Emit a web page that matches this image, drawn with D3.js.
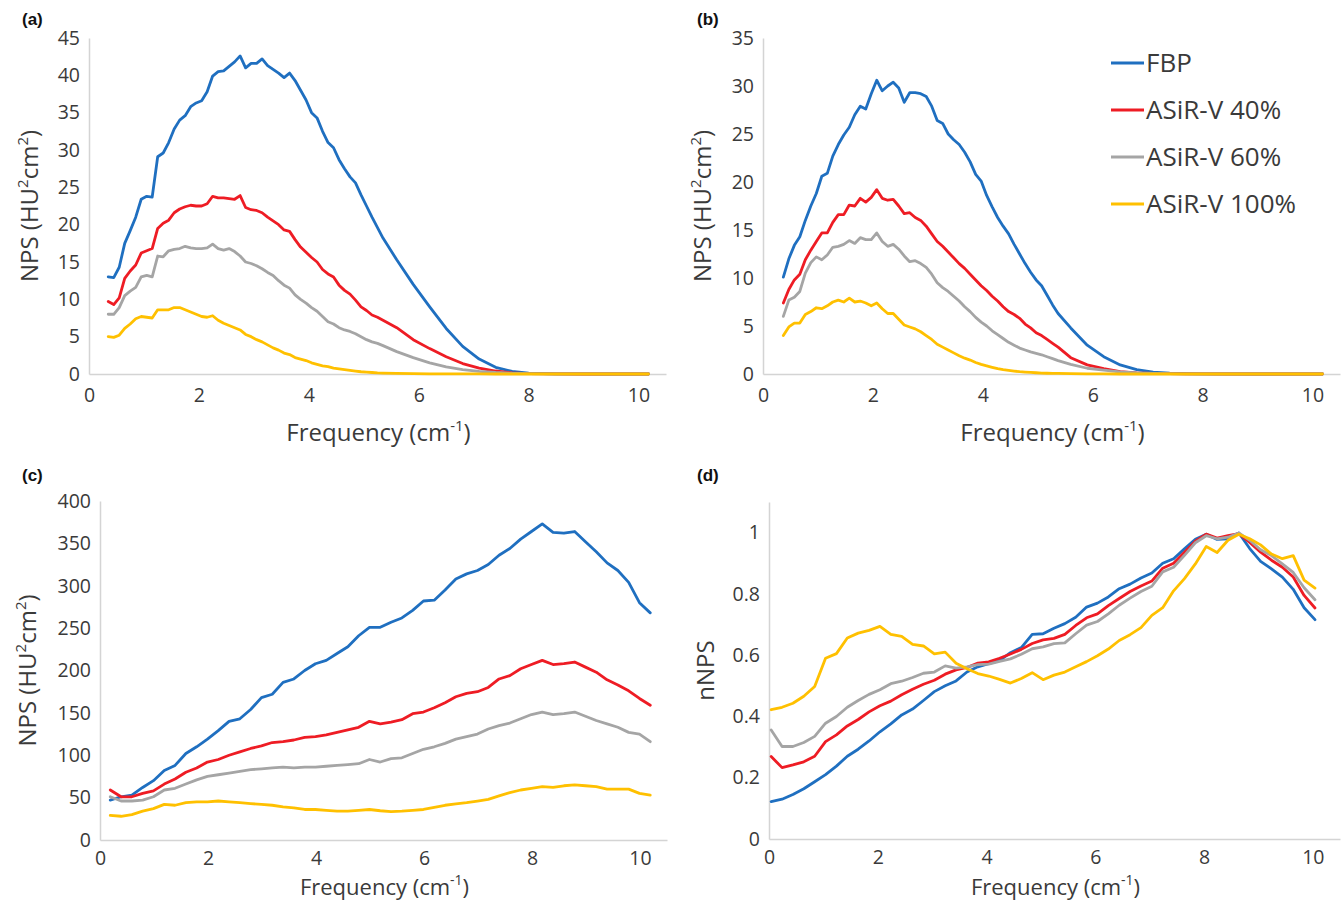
<!DOCTYPE html>
<html>
<head>
<meta charset="utf-8">
<script src="https://cdn.jsdelivr.net/npm/d3@7"></script>
<style>
  html, body { margin: 0; padding: 0; background: #fff; }
  svg { display: block; }
  text { font-family: "Open Sans", "DejaVu Sans", sans-serif; fill: #3a3a3a; }
  .panel-label { font-family: "Liberation Sans", Arial, sans-serif; font-weight: bold; fill: #111; }
</style>
</head>
<body>
<svg id="chart" width="1341" height="903"></svg>
<script>
// ---- Series metadata ----
const seriesNames = ["FBP", "ASiR-V 40%", "ASiR-V 60%", "ASiR-V 100%"];
const seriesColors = ["#1f6fc0", "#ee1c24", "#a5a5a5", "#ffc000"];

// ---- Tick labels ----
const xTicks = [0, 2, 4, 6, 8, 10];
const aYTicks = [0, 5, 10, 15, 20, 25, 30, 35, 40, 45];
const bYTicks = [0, 5, 10, 15, 20, 25, 30, 35];
const cYTicks = [0, 50, 100, 150, 200, 250, 300, 350, 400];
const dYTicks = [0, 0.2, 0.4, 0.6, 0.8, 1];

// ---- (a) NPS, standard kernel ----
const aFreq = [0.35,0.45,0.55,0.65,0.75,0.85,0.95,1.05,1.15,1.25,
  1.35,1.45,1.55,1.65,1.75,1.85,1.95,2.05,2.15,2.25,
  2.35,2.45,2.55,2.65,2.75,2.85,2.95,3.05,3.15,3.25,
  3.35,3.45,3.55,3.65,3.75,3.85,3.95,4.05,4.15,4.25,
  4.35,4.45,4.55,4.65,4.75,4.85,4.95,5.05,5.15,5.25,
  5.35,5.6,5.9,6.2,6.5,6.8,7.1,7.4,7.7,8.0,8.5,9.0,9.5,10.18];
const aFBP = [13.0,12.9,14.3,17.5,19.2,21.0,23.4,23.8,23.7,29.1,
  29.6,31.0,32.8,34.0,34.6,35.8,36.3,36.6,37.8,39.9,
  40.5,40.6,41.2,41.8,42.6,41.0,41.6,41.6,42.2,41.3,
  40.8,40.3,39.7,40.3,39.3,38.0,36.7,35.0,34.3,32.5,
  31.0,30.3,28.7,27.5,26.4,25.6,24.0,22.5,21.0,19.6,
  18.2,15.3,12.0,9.0,6.1,3.7,2.0,0.9,0.35,0.1,0.03,0.01,0,0];
const aASIR40 = [9.7,9.3,10.2,12.8,13.8,14.6,16.2,16.5,16.8,19.5,
  20.2,20.6,21.6,22.1,22.4,22.6,22.5,22.5,22.8,23.8,
  23.6,23.6,23.5,23.4,23.9,22.3,22.0,21.9,21.6,21.0,
  20.5,20.0,19.3,19.1,18.0,17.0,16.3,15.6,15.0,14.0,
  13.4,13.0,11.9,11.2,10.7,9.9,9.0,8.5,7.9,7.6,
  7.2,6.2,4.6,3.4,2.3,1.4,0.8,0.4,0.15,0.05,0.02,0,0,0];
const aASIR60 = [8.0,8.0,8.9,10.5,11.1,11.6,13.0,13.2,13.0,15.8,
  15.7,16.5,16.7,16.8,17.1,16.9,16.8,16.8,16.9,17.4,
  16.8,16.6,16.8,16.4,15.8,15.0,14.8,14.5,14.1,13.6,
  13.2,12.5,11.9,11.5,10.6,10.0,9.5,8.9,8.4,7.7,
  7.0,6.7,6.2,5.9,5.7,5.4,5.0,4.6,4.3,4.1,
  3.8,3.0,2.2,1.5,0.95,0.6,0.35,0.2,0.1,0.05,0.02,0.01,0,0];
const aASIR100 = [5.0,4.9,5.2,6.1,6.7,7.4,7.7,7.6,7.5,8.6,
  8.6,8.6,8.9,8.9,8.6,8.3,8.0,7.7,7.6,7.8,
  7.2,6.8,6.5,6.2,5.9,5.3,5.0,4.6,4.3,3.9,
  3.5,3.2,2.8,2.6,2.2,2.0,1.8,1.5,1.3,1.1,
  1.0,0.8,0.7,0.6,0.5,0.4,0.3,0.25,0.2,0.15,
  0.12,0.08,0.05,0.03,0.02,0.01,0.01,0,0,0,0,0,0,0];

// ---- (b) NPS, soft kernel ----
const bFreq = [0.37,0.47,0.57,0.67,0.77,0.87,0.97,1.07,1.17,1.27,
  1.37,1.47,1.57,1.67,1.77,1.87,1.97,2.07,2.17,2.27,
  2.37,2.47,2.57,2.67,2.77,2.87,2.97,3.07,3.17,3.27,
  3.37,3.47,3.57,3.67,3.77,3.87,3.97,4.07,4.17,4.27,
  4.37,4.47,4.57,4.67,4.77,4.87,4.97,5.07,5.17,5.27,
  5.37,5.6,5.9,6.2,6.5,6.8,7.1,7.4,7.7,8.0,8.5,9.0,9.5,10.18];
const bFBP = [10.1,12.0,13.4,14.3,16.0,17.5,18.8,20.6,20.9,22.7,
  23.9,24.9,25.7,27.0,27.9,27.6,29.2,30.6,29.5,30.0,
  30.4,29.8,28.3,29.3,29.3,29.2,28.9,27.9,26.4,26.1,
  25.0,24.4,23.9,23.1,22.1,20.8,20.1,18.6,17.4,16.3,
  15.4,14.6,13.5,12.5,11.5,10.6,9.8,9.2,8.2,7.2,
  6.3,4.8,3.0,1.8,0.95,0.45,0.2,0.08,0.04,0.02,0.01,0,0,0];
const bASIR40 = [7.4,8.8,9.8,10.4,11.9,12.9,13.8,14.7,14.7,15.8,
  16.6,16.6,17.6,17.5,18.3,17.9,18.4,19.2,18.3,18.1,
  18.2,17.5,16.7,16.8,16.3,16.0,15.4,14.6,13.8,13.3,
  12.7,12.1,11.5,11.0,10.4,9.8,9.2,8.7,8.1,7.6,
  7.0,6.5,6.2,5.8,5.2,4.8,4.3,4.0,3.6,3.2,
  2.8,1.7,0.95,0.55,0.25,0.12,0.06,0.03,0.02,0.01,0,0,0,0];
const bASIR60 = [6.0,7.7,8.0,8.6,10.5,11.6,12.2,11.9,12.4,13.2,
  13.3,13.5,13.9,13.6,14.2,14.0,14.0,14.7,13.8,13.3,
  13.5,13.0,12.3,11.7,11.8,11.5,11.1,10.4,9.5,9.0,
  8.6,8.1,7.6,7.0,6.5,5.9,5.4,5.0,4.5,4.1,
  3.7,3.3,3.0,2.7,2.5,2.3,2.15,2.0,1.8,1.6,
  1.4,1.0,0.6,0.4,0.22,0.12,0.06,0.03,0.02,0.01,0,0,0,0];
const bASIR100 = [4.0,4.9,5.3,5.3,6.2,6.5,6.9,6.8,7.1,7.5,
  7.7,7.5,7.9,7.5,7.6,7.4,7.1,7.4,6.8,6.3,
  6.3,5.7,5.1,4.9,4.7,4.4,4.0,3.6,3.1,2.8,
  2.5,2.2,1.9,1.65,1.45,1.2,1.0,0.85,0.7,0.55,
  0.45,0.37,0.3,0.24,0.2,0.16,0.13,0.1,0.08,0.07,
  0.06,0.04,0.02,0.01,0,0,0,0,0,0,0,0,0,0];

// ---- (c) NPS, sharp kernel ----
const cFreq = [0.19,0.39,0.59,0.79,0.99,1.19,1.39,1.59,1.79,1.99,
  2.19,2.39,2.59,2.79,2.99,3.19,3.39,3.59,3.79,3.99,
  4.19,4.39,4.59,4.79,4.99,5.19,5.39,5.59,5.79,5.99,
  6.19,6.39,6.59,6.79,6.99,7.19,7.39,7.59,7.79,7.99,
  8.19,8.39,8.59,8.79,8.99,9.19,9.39,9.59,9.79,9.99,10.19];
const cFBP = [47,51,53,62,70,82,88,102,110,119,
  129,140,143,154,168,172,186,190,200,208,
  212,220,228,241,251,251,257,262,271,282,
  283,295,308,314,318,325,336,344,355,364,
  373,363,362,364,352,340,327,318,304,280,268];
const cASIR40 = [59,51,51,55,58,66,72,80,85,92,
  95,100,104,108,111,115,116,118,121,122,
  124,127,130,133,140,137,139,142,149,151,
  156,162,169,173,175,180,190,194,202,207,
  212,207,208,210,204,198,189,183,176,167,159];
const cASIR60 = [51,46,46,47,51,59,61,66,71,75,
  77,79,81,83,84,85,86,85,86,86,
  87,88,89,90,95,92,96,97,102,107,
  110,114,119,122,125,131,135,138,143,148,
  151,148,149,151,146,141,137,133,127,125,116];
const cASIR100 = [29,28,30,34,37,42,41,44,45,45,
  46,45,44,43,42,41,39,38,36,36,
  35,34,34,35,36,34.5,33.5,34,35,36,
  38.5,41,42.5,44,46,48,52,56,59,61,
  63,62,64,65,64,63,60,60,60,55,53];

// ---- (d) normalised NPS ----
const dFreq = [0.04,0.24,0.44,0.64,0.84,1.04,1.24,1.44,1.64,1.84,
  2.04,2.24,2.44,2.64,2.84,3.04,3.24,3.44,3.64,3.84,
  4.04,4.24,4.44,4.64,4.84,5.04,5.24,5.44,5.64,5.84,
  6.04,6.24,6.44,6.64,6.84,7.04,7.24,7.44,7.64,7.84,
  8.04,8.24,8.44,8.64,8.84,9.04,9.24,9.44,9.64,9.84,10.04];
const dFBP = [0.122,0.13,0.145,0.164,0.187,0.21,0.238,0.27,0.293,0.32,
  0.35,0.376,0.405,0.424,0.452,0.481,0.5,0.516,0.545,0.562,
  0.572,0.582,0.608,0.625,0.668,0.67,0.688,0.703,0.724,0.757,
  0.77,0.79,0.817,0.832,0.852,0.868,0.9,0.915,0.947,0.978,
  0.995,0.978,0.98,0.999,0.948,0.906,0.882,0.855,0.815,0.755,0.716];
const dASIR40 = [0.269,0.233,0.242,0.252,0.27,0.318,0.34,0.369,0.39,0.415,
  0.435,0.45,0.471,0.489,0.505,0.518,0.538,0.552,0.56,0.574,
  0.578,0.59,0.604,0.619,0.638,0.65,0.655,0.668,0.697,0.722,
  0.735,0.762,0.785,0.808,0.826,0.842,0.884,0.9,0.936,0.972,
  0.995,0.982,0.99,0.997,0.968,0.936,0.91,0.887,0.855,0.795,0.754];
const dASIR60 = [0.356,0.302,0.302,0.315,0.335,0.378,0.4,0.43,0.452,0.472,
  0.487,0.507,0.515,0.527,0.541,0.545,0.565,0.558,0.562,0.569,
  0.571,0.58,0.588,0.603,0.621,0.627,0.638,0.64,0.67,0.698,
  0.71,0.735,0.763,0.786,0.808,0.825,0.872,0.887,0.926,0.967,
  0.99,0.98,0.985,0.999,0.975,0.944,0.925,0.898,0.87,0.82,0.781];
const dASIR100 = [0.422,0.43,0.443,0.466,0.498,0.59,0.605,0.656,0.672,0.681,
  0.694,0.668,0.661,0.635,0.63,0.604,0.61,0.574,0.556,0.54,
  0.532,0.521,0.509,0.524,0.543,0.52,0.535,0.545,0.562,0.579,
  0.598,0.62,0.648,0.667,0.69,0.73,0.755,0.81,0.85,0.898,
  0.955,0.935,0.975,0.995,0.98,0.96,0.93,0.915,0.925,0.845,0.819];

// ---- Layout ----
const svg = d3.select("#chart");

const panels = [
  { label: "(a)", labelPos: [22, 25], freq: aFreq, values: [aFBP, aASIR40, aASIR60, aASIR100],
    yTicks: aYTicks, yMax: 45, x0: 89, x1: 666, y0: 374, y1: 38,
    yTitle: "nps", yTitleX: 30, xTitleY: 441, xTitleFont: 24, xPad: 11 },
  { label: "(b)", labelPos: [697, 25], freq: bFreq, values: [bFBP, bASIR40, bASIR60, bASIR100],
    yTicks: bYTicks, yMax: 35, x0: 763, x1: 1340, y0: 374, y1: 38,
    yTitle: "nps", yTitleX: 703, xTitleY: 441, xTitleFont: 24, xPad: 11, legend: true },
  { label: "(c)", labelPos: [22, 481], freq: cFreq, values: [cFBP, cASIR40, cASIR60, cASIR100],
    yTicks: cYTicks, yMax: 400, x0: 100, x1: 667, y0: 840, y1: 501,
    yTitle: "nps", yTitleX: 28, xTitleY: 895, xTitleFont: 22, xPad: 8 },
  { label: "(d)", labelPos: [697, 481], freq: dFreq, values: [dFBP, dASIR40, dASIR60, dASIR100],
    yTicks: dYTicks, yMax: 1.1, x0: 769, x1: 1340, y0: 839, y1: 502,
    yTitle: "nnps", yTitleX: 706, xTitleY: 895, xTitleFont: 22, xPad: 8 }
];

const tickFont = 19.5;
const titleFont = 24;
const supFont = 15;

panels.forEach(p => {
  const x = d3.scaleLinear().domain([0, 10.5]).range([p.x0, p.x1]);
  const y = d3.scaleLinear().domain([0, p.yMax]).range([p.y0, p.y1]);
  const g = svg.append("g");

  // axis lines (no tick marks, light grey)
  const xAxis = d3.axisBottom(x).tickValues(xTicks).tickSize(0).tickPadding(p.xPad)
    .tickFormat(d3.format("d"));
  const yAxis = d3.axisLeft(y).tickValues(p.yTicks).tickSize(0).tickPadding(9)
    .tickFormat(v => String(+v.toFixed(2)));

  const gx = g.append("g").attr("transform", `translate(0,${p.y0})`).call(xAxis);
  const gy = g.append("g").attr("transform", `translate(${p.x0},0)`).call(yAxis);
  [gx, gy].forEach(a => {
    a.select(".domain").attr("stroke", "#d4d4d4").attr("stroke-width", 1.5);
    a.selectAll("text").attr("font-size", tickFont).attr("fill", "#3a3a3a")
      .attr("font-family", "'Open Sans', sans-serif");
  });
  gx.selectAll("text").attr("dy", "0.85em");

  // data lines
  const line = d3.line().x(d => x(d[0])).y(d => y(d[1]));
  p.values.forEach((vals, i) => {
    const pts = p.freq.map((f, k) => [f, vals[k]]);
    g.append("path")
      .datum(pts)
      .attr("d", line)
      .attr("fill", "none")
      .attr("stroke", seriesColors[i])
      .attr("stroke-width", 2.8)
      .attr("stroke-linejoin", "round")
      .attr("stroke-linecap", "round");
  });

  // panel label
  svg.append("text").attr("class", "panel-label")
    .attr("x", p.labelPos[0]).attr("y", p.labelPos[1])
    .attr("font-size", 17).text(p.label);

  // x-axis title: Frequency (cm^-1)
  const sup = Math.round(p.xTitleFont * 0.62);
  const xt = svg.append("text")
    .attr("x", (p.x0 + p.x1) / 2 + 1).attr("y", p.xTitleY)
    .attr("text-anchor", "middle").attr("font-size", p.xTitleFont);
  xt.append("tspan").text("Frequency (cm");
  xt.append("tspan").attr("font-size", sup).attr("dy", -10).text("-1");
  xt.append("tspan").attr("dy", 10).text(")");

  // y-axis title
  const cy = (p.y0 + p.y1) / 2;
  const yt = svg.append("text")
    .attr("transform", `translate(${p.yTitleX},${cy}) rotate(-90)`)
    .attr("text-anchor", "middle").attr("dy", "0.35em").attr("font-size", titleFont);
  if (p.yTitle === "nps") {
    yt.append("tspan").text("NPS (HU");
    yt.append("tspan").attr("font-size", supFont).attr("dy", -10).text("2");
    yt.append("tspan").attr("dy", 10).text("cm");
    yt.append("tspan").attr("font-size", supFont).attr("dy", -10).text("2");
    yt.append("tspan").attr("dy", 10).text(")");
  } else {
    yt.text("nNPS");
  }

  // legend
  if (p.legend) {
    seriesNames.forEach((name, i) => {
      const ly = 63 + i * 47;
      svg.append("line")
        .attr("x1", 1111).attr("x2", 1144).attr("y1", ly).attr("y2", ly)
        .attr("stroke", seriesColors[i]).attr("stroke-width", 2.8);
      svg.append("text")
        .attr("x", 1146).attr("y", ly).attr("dy", "0.36em")
        .attr("font-size", 26).text(name);
    });
  }
});
</script>
</body>
</html>
